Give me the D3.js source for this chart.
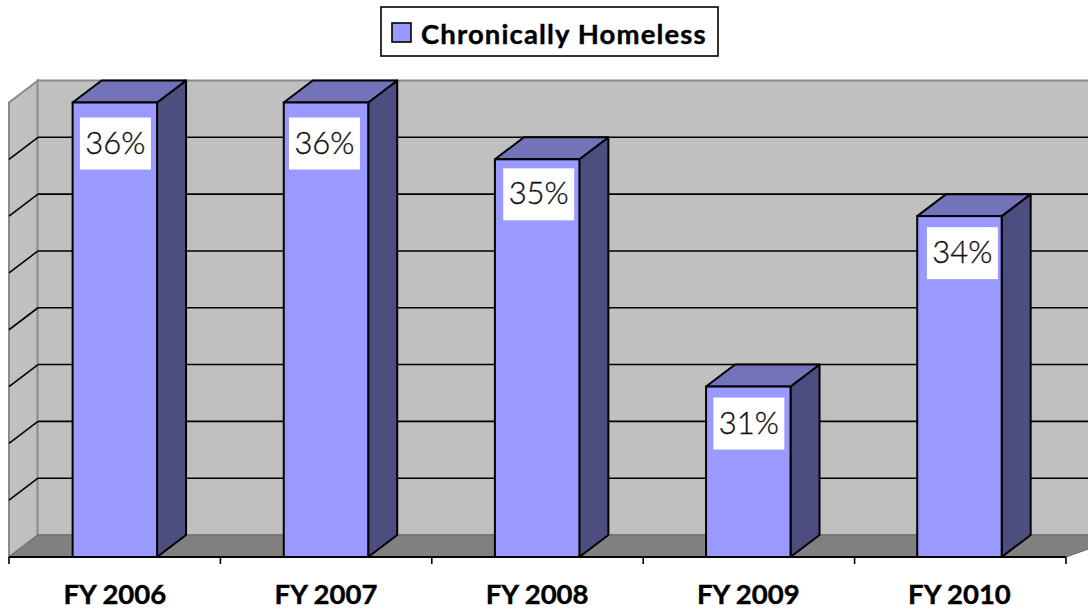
<!DOCTYPE html>
<html>
<head>
<meta charset="utf-8">
<script src="https://cdn.jsdelivr.net/npm/d3@7"></script>
<style>
html, body { margin: 0; padding: 0; background: #fff; }
svg { display: block; }
text { font-family: Lato, sans-serif; }
</style>
</head>
<body>
<div id="chart"></div>
<script>
var years = ["FY 2006", "FY 2007", "FY 2008", "FY 2009", "FY 2010"];
var chronicallyHomeless = [36, 36, 35, 31, 34];
var gridTicks = [28, 29, 30, 31, 32, 33, 34, 35, 36];
var seriesName = "Chronically Homeless";

var width = 1088, height = 612;
var left = 9, right = 1066, base = 557, top3d = 102.5;
var dx = 29, dy = -22;

// the value boxes were placed by hand in the original
var labelNudgeX = [7.3, 5.2, 8.3, 7.3, 9.7];
var labelNudgeY = [15, 15, 9, 11, 11];

var svg = d3.select("#chart").append("svg")
  .attr("width", width)
  .attr("height", height);

var x = d3.scaleBand()
  .domain(years)
  .range([8, 1063.75])
  .paddingInner(0.6)
  .paddingOuter(0.3)
  .align(0.51);

var y = d3.scaleLinear()
  .domain([28, 36])
  .range([base, top3d]);

var tickX = d3.scaleLinear()
  .domain([0, years.length])
  .range([left, right]);

// side wall, back wall, floor
svg.append("polygon")
  .attr("points", [[left, y(28)], [left + dx, y(28) + dy], [left + dx, y(36) + dy], [left, y(36)]].join(" "))
  .attr("fill", "#c0c0c0")
  .attr("stroke", "#8a8a8a")
  .attr("stroke-width", 2);

svg.append("rect")
  .attr("x", left + dx - 0.5)
  .attr("y", y(36) + dy)
  .attr("width", width)
  .attr("height", y(28) - y(36))
  .attr("fill", "#c0c0c0")
  .attr("stroke", "#8a8a8a")
  .attr("stroke-width", 2);

svg.append("polygon")
  .attr("points", [[left, y(28)], [left + dx, y(28) + dy], [width + 40, y(28) + dy], [right, y(28)]].join(" "))
  .attr("fill", "#808080")
  .attr("stroke", "#6a6a6a")
  .attr("stroke-width", 1);

// gridlines, skipping the top and bottom edge
var inner = gridTicks.slice(1, -1);
svg.selectAll(".grid-side").data(inner).enter().append("line")
  .attr("class", "grid-side")
  .attr("x1", left).attr("x2", left + dx)
  .attr("y1", function(d){ return y(d); })
  .attr("y2", function(d){ return y(d) + dy; })
  .attr("stroke", "#000").attr("stroke-width", 1.6);

svg.selectAll(".grid-back").data(inner).enter().append("line")
  .attr("class", "grid-back")
  .attr("x1", left + dx).attr("x2", width)
  .attr("y1", function(d){ return y(d) + dy; })
  .attr("y2", function(d){ return y(d) + dy; })
  .attr("stroke", "#000").attr("stroke-width", 1.6);

// bars
var bars = svg.selectAll(".bar")
  .data(years.map(function(year, i){ return {year: year, value: chronicallyHomeless[i]}; }))
  .enter().append("g")
  .attr("class", "bar");

bars.append("polygon")
  .attr("points", function(d){
    var x1 = x(d.year) + x.bandwidth();
    return [[x1, base], [x1 + dx, base + dy], [x1 + dx, y(d.value) + dy], [x1, y(d.value)]].join(" ");
  })
  .attr("fill", "#4d4d80")
  .attr("stroke", "#000").attr("stroke-width", 2).attr("stroke-linejoin", "round");

bars.append("polygon")
  .attr("points", function(d){
    var x0 = x(d.year), x1 = x0 + x.bandwidth(), t = y(d.value);
    return [[x0, t], [x0 + dx, t + dy], [x1 + dx, t + dy], [x1, t]].join(" ");
  })
  .attr("fill", "#7373b9")
  .attr("stroke", "#000").attr("stroke-width", 2).attr("stroke-linejoin", "round");

bars.append("rect")
  .attr("x", function(d){ return x(d.year); })
  .attr("y", function(d){ return y(d.value); })
  .attr("width", x.bandwidth())
  .attr("height", function(d){ return base - y(d.value); })
  .attr("fill", "#9999ff")
  .attr("stroke", "#000").attr("stroke-width", 2);

// white value labels
bars.append("rect")
  .attr("x", function(d, i){ return x(d.year) + labelNudgeX[i]; })
  .attr("y", function(d, i){ return y(d.value) + labelNudgeY[i]; })
  .attr("width", 71)
  .attr("height", 52)
  .attr("fill", "#fff");

bars.append("text")
  .attr("x", function(d, i){ return x(d.year) + labelNudgeX[i] + 35.5; })
  .attr("y", function(d, i){ return y(d.value) + labelNudgeY[i] + 36; })
  .attr("text-anchor", "middle")
  .attr("font-size", 31)
  .attr("font-weight", 300)
  .attr("stroke", "#111")
  .attr("stroke-width", 0.35)
  .attr("fill", "#111")
  .text(function(d){ return d.value + "%"; });

// bottom axis
var axis = svg.append("g")
  .attr("transform", "translate(0," + base + ")")
  .call(d3.axisBottom(x).tickSize(0).tickPadding(0));
axis.select(".domain").attr("stroke", "#000").attr("stroke-width", 2).attr("d", "M" + left + ",0H" + right);
axis.selectAll("text")
  .attr("y", 47)
  .attr("dy", 0)
  .attr("font-family", "Lato, sans-serif")
  .attr("font-size", 27.5)
  .attr("font-weight", 700)
  .attr("stroke", "#000")
  .attr("stroke-width", 0.4)
  .attr("fill", "#000");

axis.selectAll(".sep")
  .data(d3.range(years.length + 1))
  .enter().append("line")
  .attr("class", "sep")
  .attr("x1", function(i){ return tickX(i); })
  .attr("x2", function(i){ return tickX(i); })
  .attr("y1", 0).attr("y2", 7)
  .attr("stroke", "#000").attr("stroke-width", 1.6);

// legend
var legend = svg.append("g");
legend.append("rect")
  .attr("x", 381).attr("y", 7).attr("width", 337).attr("height", 49)
  .attr("fill", "#fff").attr("stroke", "#000").attr("stroke-width", 1.6);
legend.append("rect")
  .attr("x", 392).attr("y", 23).attr("width", 19).attr("height", 19)
  .attr("fill", "#9999ff").attr("stroke", "#000").attr("stroke-width", 1.6);
legend.append("text")
  .attr("x", 421).attr("y", 44)
  .attr("font-size", 27.5).attr("font-weight", 700).attr("fill", "#000")
  .attr("stroke", "#000").attr("stroke-width", 0.4)
  .attr("letter-spacing", 1.12)
  .text(seriesName);
</script>
</body>
</html>
